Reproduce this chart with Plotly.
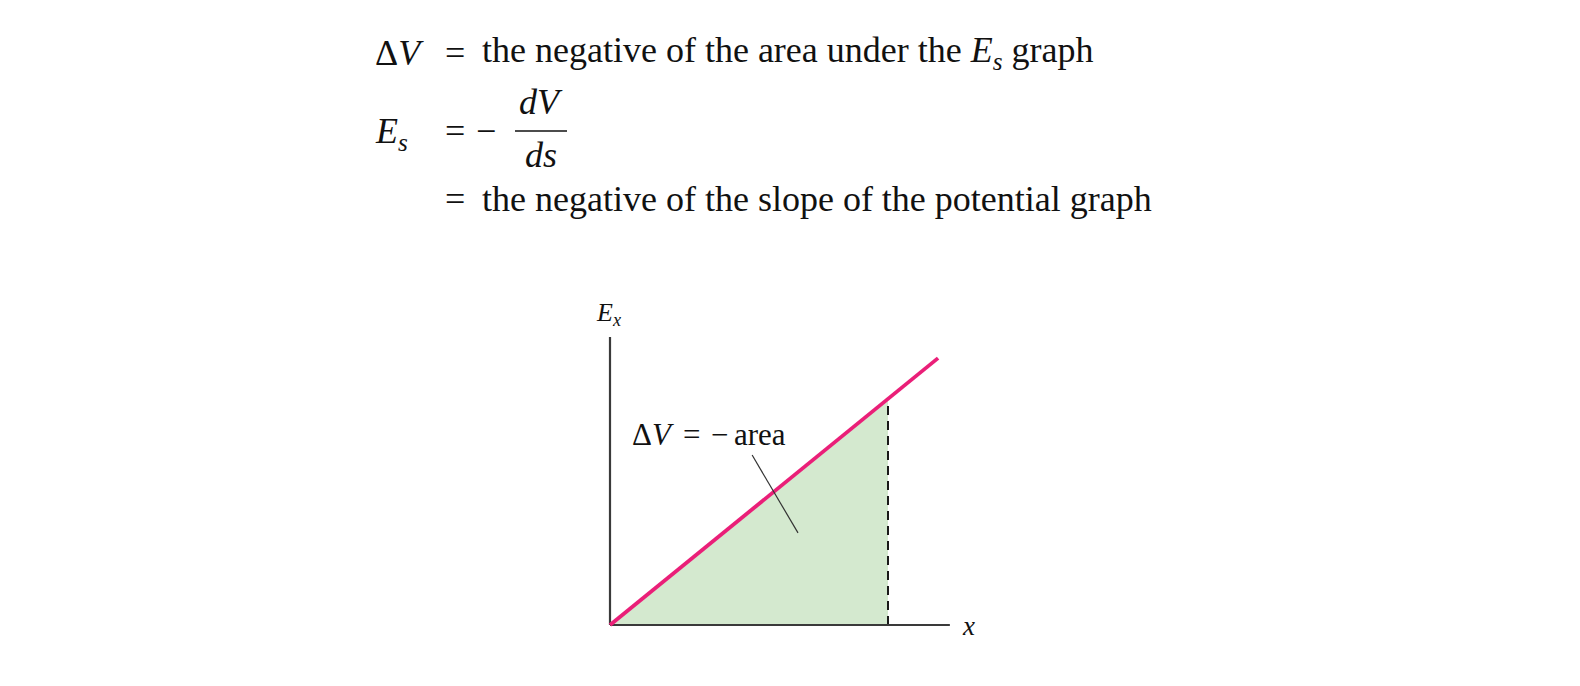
import plotly.graph_objects as go

# ---- data (diagram units) ----
x_line = [0, 9.44]
E_line = [0, 7.68]
x_area = [0, 8, 8, 0]
E_area = [0, 6.51, 0, 0]
x_dash = [8, 8]
E_dash = [0, 6.51]
x_axis_x = [0, 9.78]
x_axis_y = [0, 0]
y_axis_x = [0, 0]
y_axis_y = [0, 8.29]
leader_x = [4.09, 5.41]
leader_y = [4.89, 2.65]

W, H = 1580, 686
OFF = 8          # default page body margin
UNIT = 34.75
OX, OY = 610 - OFF, 625 - OFF

SERIF = "Liberation Serif, Times New Roman, serif"

fig = go.Figure()

fig.add_trace(go.Scatter(x=x_area, y=E_area, mode="lines", fill="toself",
                         fillcolor="#d4e9cf", line=dict(width=0), hoverinfo="skip"))
fig.add_trace(go.Scatter(x=x_dash, y=E_dash, mode="lines",
                         line=dict(color="#1a1a1a", width=2, dash="9px,6px"), hoverinfo="skip"))
fig.add_trace(go.Scatter(x=x_axis_x, y=x_axis_y, mode="lines",
                         line=dict(color="#3a3a3a", width=2.2), hoverinfo="skip"))
fig.add_trace(go.Scatter(x=y_axis_x, y=y_axis_y, mode="lines",
                         line=dict(color="#3a3a3a", width=2.2), hoverinfo="skip"))
fig.add_trace(go.Scatter(x=x_line, y=E_line, mode="lines",
                         line=dict(color="#ea1f78", width=3.8), hoverinfo="skip"))
fig.add_trace(go.Scatter(x=leader_x, y=leader_y, mode="lines",
                         line=dict(color="#333333", width=1.2), hoverinfo="skip"))

x0 = -OX / UNIT
x1 = x0 + W / UNIT
y0 = -(H - OY) / UNIT
y1 = y0 + H / UNIT

def px(p):
    return (p - OFF) / W

def py(p):
    return 1 - (p - OFF) / H

ann = []

def add(text, x, y, size, xanchor="center", yanchor="middle", ref="paper"):
    if ref == "paper":
        x, y, xr, yr = px(x), py(y), "paper", "paper"
    else:
        xr, yr = "x", "y"
    ann.append(dict(text=text, x=x, y=y, xref=xr, yref=yr,
                    xanchor=xanchor, yanchor=yanchor, showarrow=False,
                    font=dict(family=SERIF, size=size, color="#111111")))

FS = 36
# line 1
add("Δ<i>V</i>", 373, 53, FS, xanchor="left")
add("=", 455, 53, FS)
add("the negative of the area under the <i>E</i><sub><i>s</i></sub> graph", 480, 53, FS, xanchor="left")
# line 2
add("<i>E</i><sub><i>s</i></sub>", 373, 134, FS, xanchor="left")
add("=", 455, 131, FS)
add("−", 486, 131, FS)
add("<i>dV</i>", 541, 102, FS)
add("<i>ds</i>", 541, 155, FS)
# line 3
add("=", 455, 199, FS)
add("the negative of the slope of the potential graph", 480, 199, FS, xanchor="left")

# diagram labels
add("Δ<i>V</i>", 630, 434, 31, xanchor="left")
add("=", 691, 434, 31)
add("−", 719, 434, 31)
add("area", 788, 434, 31, xanchor="right")
add("<i>E</i><sub><i>x</i></sub>", 594, 314, 26, xanchor="left")
add("<i>x</i>", 968, 626, 27)

shapes = [dict(type="line", xref="paper", yref="paper",
               x0=px(515), x1=px(567), y0=py(131), y1=py(131),
               line=dict(color="#111111", width=1.5))]

fig.update_layout(
    width=W, height=H,
    margin=dict(l=0, r=0, t=0, b=0),
    paper_bgcolor="white", plot_bgcolor="white",
    showlegend=False,
    xaxis=dict(range=[x0, x1], visible=False, fixedrange=True),
    yaxis=dict(range=[y0, y1], visible=False, fixedrange=True),
    annotations=ann, shapes=shapes,
)

fig.write_html("out.html")
